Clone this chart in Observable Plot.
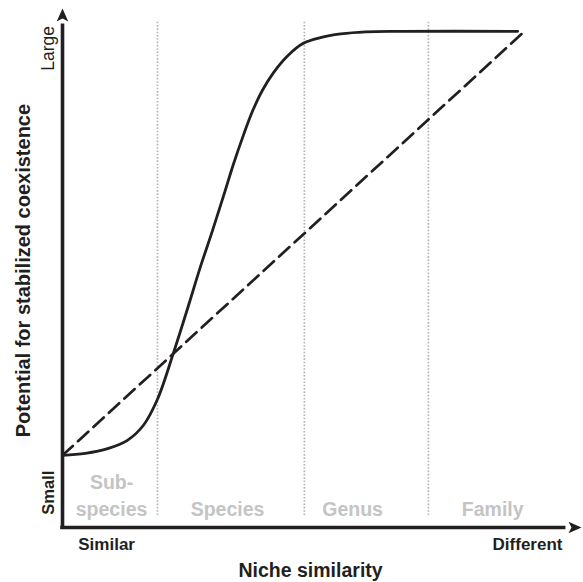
<!DOCTYPE html>
<html>
<head>
<meta charset="utf-8">
<script src="https://cdn.jsdelivr.net/npm/d3@7"></script>
<script src="https://cdn.jsdelivr.net/npm/@observablehq/plot@0.6"></script>
<style>
  html, body { margin: 0; padding: 0; background: #fff; }
  #chart svg { display: block; }
</style>
</head>
<body>
<div id="chart"></div>
<script>
// Solid curve: potential for stabilized coexistence vs niche difference (0-100 scale)
const curveX = [0, 4.4, 8.7, 12.5, 15.6, 18.3, 21.4, 24.1, 26.6, 28.9, 31.0, 32.9, 34.9, 36.6, 38.5, 40.7, 43.4, 46.4, 49.7, 53.6, 58.4, 65.1, 87.7];
const curveY = [13.9, 14.3, 15.2, 16.8, 19.7, 24.7, 33.7, 42.2, 50.3, 57.2, 63.8, 69.9, 75.7, 80.2, 84.2, 87.7, 90.9, 93.3, 94.4, 95.1, 95.5, 95.6, 95.6];
// Dashed straight line
const dashX = [0, 88.8];
const dashY = [13.9, 95.4];
// Taxonomic boundaries (dotted verticals)
const dividerX = [18.3, 46.6, 70.5];
// Taxonomic categories
const categories = ["Sub-\nspecies", "Species", "Genus", "Family"];
const categoryX = [9.45, 31.8, 55.9, 82.9];
// Axis end labels
const xEndLabels = ["Similar", "Different"];
const yEndLabels = ["Small", "Large"];

const curve = curveX.map((x, i) => ({x, y: curveY[i]}));
const dashed = dashX.map((x, i) => ({x, y: dashY[i]}));
const cats = categories.map((name, i) => ({name, x: categoryX[i]}));

const font = "'Liberation Sans', Arial, Helvetica, sans-serif";
const ink = "#231f20";

// concave arrowhead with its tip at the origin, pointing up
const arrowHead = {
  draw(ctx) {
    ctx.moveTo(0, 0);
    ctx.lineTo(5.8, 13);
    ctx.lineTo(0, 10);
    ctx.lineTo(-5.8, 13);
    ctx.closePath();
  }
};

const chart = Plot.plot({
  width: 583,
  height: 582,
  marginLeft: 62,
  marginRight: 2,
  marginTop: 8,
  marginBottom: 55,
  x: {domain: [0, 100], axis: null},
  y: {domain: [0, 100], axis: null},
  style: {fontFamily: font, background: "#fff"},
  marks: [
    Plot.ruleX(dividerX, {y1: 2.3, y2: 97.7, stroke: "#b5b5b5", strokeWidth: 1.7, strokeDasharray: "1.6,1.7"}),
    Plot.text(cats, {x: "x", y: 2.3, text: "name", lineAnchor: "bottom", lineHeight: 1.37,
      fontSize: 19.5, fontWeight: "bold", fill: "#c4c4c4"}),
    Plot.line(dashed, {x: "x", y: "y", stroke: ink, strokeWidth: 2.7, strokeDasharray: "14,7"}),
    Plot.line(curve, {x: "x", y: "y", curve: "catmull-rom", stroke: ink, strokeWidth: 2.8}),
    // axes
    Plot.ruleX([0], {y1: 0, y2: 97, stroke: ink, strokeWidth: 3.6}),
    Plot.ruleY([0], {x1: -0.35, x2: 97, stroke: ink, strokeWidth: 3.6}),
    Plot.dot([{x: 0, y: 100}], {x: "x", y: "y", symbol: arrowHead, fill: ink, stroke: "none", rotate: 0}),
    Plot.dot([{x: 100, y: 0}], {x: "x", y: "y", symbol: arrowHead, fill: ink, stroke: "none", rotate: 90}),
    // x end labels
    Plot.text([{t: xEndLabels[0], x: 8.5}, {t: xEndLabels[1], x: 89.6}], {x: "x", y: -4.4, text: "t",
      lineAnchor: "bottom", fontSize: 17, fontWeight: "bold", fill: ink}),
    Plot.text(["Niche similarity"], {x: 47.8, y: -9.6, text: d => d, lineAnchor: "bottom",
      fontSize: 19.5, fontWeight: "bold", fill: ink}),
    // y end labels
    Plot.text([yEndLabels[0]], {x: -1.73, y: 6.7, text: d => d, rotate: -90, lineAnchor: "bottom",
      fontSize: 16.5, fontWeight: "bold", fill: ink}),
    Plot.text([yEndLabels[1]], {x: -1.73, y: 92.3, text: d => d, rotate: -90, lineAnchor: "bottom",
      fontSize: 17.5, fontWeight: "normal", fill: ink}),
    Plot.text(["Potential for stabilized coexistence"], {x: -6.2, y: 49.5, text: d => d, rotate: -90,
      lineAnchor: "bottom", fontSize: 20, fontWeight: "bold", fill: ink})
  ]
});
document.getElementById("chart").appendChild(chart);
</script>
</body>
</html>
